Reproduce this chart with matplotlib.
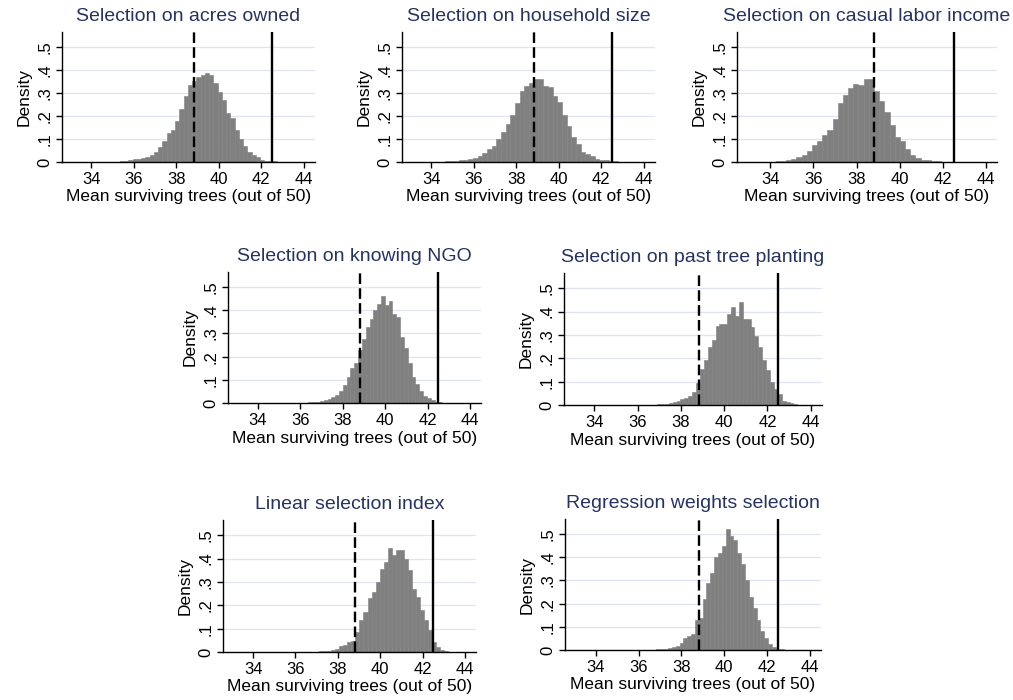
import numpy as np
import matplotlib
matplotlib.use('Agg')
import matplotlib.pyplot as plt

plt.rcParams['font.family'] = ['Liberation Sans', 'DejaVu Sans']

# titles of the seven panels
titles = ['Selection on acres owned', 'Selection on household size',
          'Selection on casual labor income', 'Selection on knowing NGO',
          'Selection on past tree planting', 'Linear selection index',
          'Regression weights selection']

# histogram bins: first edge and width, then densities per bin
bin_start = [35.34, 34.2, 33.05, 35.85, 36.54, 36.74, 36.47]
bin_width = [0.2, 0.22, 0.24, 0.18, 0.18, 0.19, 0.18]

acres = [0.004, 0.006, 0.009, 0.012, 0.014, 0.016, 0.02, 0.03, 0.045, 0.065,
         0.09, 0.125, 0.14, 0.18, 0.23, 0.285, 0.335, 0.35, 0.37, 0.38,
         0.385, 0.38, 0.345, 0.305, 0.27, 0.215, 0.19, 0.14, 0.1, 0.07,
         0.045, 0.03, 0.02, 0.01, 0.006, 0.004, 0.003, 0.002, 0.001, 0.001]
household = [0.002, 0.002, 0.003, 0.004, 0.005, 0.007, 0.01, 0.012, 0.016, 0.025,
             0.04, 0.055, 0.07, 0.1, 0.13, 0.165, 0.205, 0.255, 0.31, 0.33,
             0.345, 0.36, 0.36, 0.33, 0.325, 0.285, 0.26, 0.205, 0.155, 0.11,
             0.08, 0.045, 0.035, 0.024, 0.015, 0.01, 0.008, 0.005, 0.003, 0.002]
casual = [0.001, 0.001, 0.001, 0.002, 0.002, 0.003, 0.005, 0.008, 0.013, 0.02,
          0.031, 0.046, 0.073, 0.09, 0.117, 0.141, 0.187, 0.257, 0.293, 0.32,
          0.341, 0.334, 0.36, 0.36, 0.307, 0.267, 0.217, 0.16, 0.11, 0.093,
          0.057, 0.031, 0.017, 0.01, 0.007, 0.004, 0.003, 0.002, 0.001, 0.001]
ngo = [0.001, 0.001, 0.002, 0.003, 0.004, 0.005, 0.008, 0.011, 0.017, 0.026,
       0.036, 0.05, 0.079, 0.114, 0.15, 0.174, 0.229, 0.274, 0.329, 0.364,
       0.403, 0.426, 0.461, 0.421, 0.439, 0.386, 0.37, 0.286, 0.236, 0.171,
       0.114, 0.081, 0.05, 0.031, 0.021, 0.014, 0.006, 0.003, 0.002, 0.001]
past_planting = [0.001, 0.002, 0.003, 0.004, 0.005, 0.007, 0.012, 0.015, 0.024, 0.03,
                 0.04, 0.055, 0.094, 0.152, 0.193, 0.25, 0.28, 0.34, 0.345, 0.345,
                 0.39, 0.42, 0.38, 0.44, 0.37, 0.37, 0.333, 0.294, 0.25, 0.193,
                 0.149, 0.099, 0.07, 0.048, 0.019, 0.012, 0.007, 0.004, 0.002, 0.001]
linear_index = [0.001, 0.002, 0.003, 0.004, 0.006, 0.009, 0.014, 0.025, 0.031, 0.043,
                0.046, 0.086, 0.136, 0.171, 0.229, 0.257, 0.3, 0.357, 0.386, 0.447,
                0.414, 0.436, 0.436, 0.4, 0.35, 0.271, 0.236, 0.179, 0.136, 0.093,
                0.043, 0.021, 0.009, 0.004, 0.002]
regression = [0.001, 0.002, 0.003, 0.004, 0.005, 0.007, 0.011, 0.017, 0.029, 0.05,
              0.06, 0.067, 0.13, 0.14, 0.221, 0.289, 0.33, 0.4, 0.42, 0.45,
              0.52, 0.49, 0.475, 0.42, 0.37, 0.3, 0.23, 0.18, 0.13, 0.08,
              0.05, 0.025, 0.012, 0.006, 0.004, 0.002]
densities = [acres, household, casual, ngo, past_planting, linear_index, regression]

# reference lines
dashed_at = 38.83
solid_at = 42.51

x_ticks = [34, 36, 38, 40, 42, 44]
y_ticks = [0, 0.1, 0.2, 0.3, 0.4, 0.5]
y_tick_labels = ['0', '.1', '.2', '.3', '.4', '.5']
x_left = [32.62, 32.62, 32.45, 32.6, 32.6, 32.58, 32.56]

W, H = 1013, 700
# axes boxes in pixels: left, top, right, bottom
boxes = [(62, 32, 315, 162), (402, 32, 655, 162), (737, 32, 997, 162),
         (228, 272, 481, 403), (564, 273, 822, 405),
         (223, 520, 476, 652), (565, 519, 821, 650)]

fig = plt.figure(figsize=(W / 100, H / 100), dpi=100)

for i in range(7):
    l, t, r, b = boxes[i]
    ax = fig.add_axes([l / W, 1 - b / H, (r - l) / W, (b - t) / H])
    h = np.array(densities[i])
    edges = bin_start[i] + bin_width[i] * np.arange(len(h))
    ax.bar(edges, h, width=bin_width[i], align='edge', color='#808080',
           edgecolor='#808080', linewidth=0.4, zorder=2)
    ax.axvline(dashed_at, color='black', linewidth=1.7, dashes=(4.5, 1.8), zorder=3)
    ax.axvline(solid_at, color='black', linewidth=1.7, zorder=3)

    ax.set_xlim(x_left[i], 44.52)
    ax.set_ylim(0, 0.565)
    ax.set_xticks(x_ticks)
    ax.set_yticks(y_ticks)
    ax.set_yticklabels(y_tick_labels, rotation=90, va='center')
    ax.tick_params(direction='out', length=4, width=1, labelsize=12, pad=3)
    for y in y_ticks[1:]:
        ax.axhline(y, color='#dfe4f0', linewidth=0.9, zorder=1)

    ax.spines['top'].set_visible(False)
    ax.spines['right'].set_visible(False)
    ax.spines['left'].set_linewidth(1)
    ax.spines['bottom'].set_linewidth(1)

    ax.set_title(titles[i], fontsize=14, color='#26335e', pad=8)
    ax.set_xlabel('Mean surviving trees (out of 50)', fontsize=12.5, labelpad=2)
    ax.set_ylabel('Density', fontsize=12.5, labelpad=4)

fig.savefig('out.png', dpi=100)
